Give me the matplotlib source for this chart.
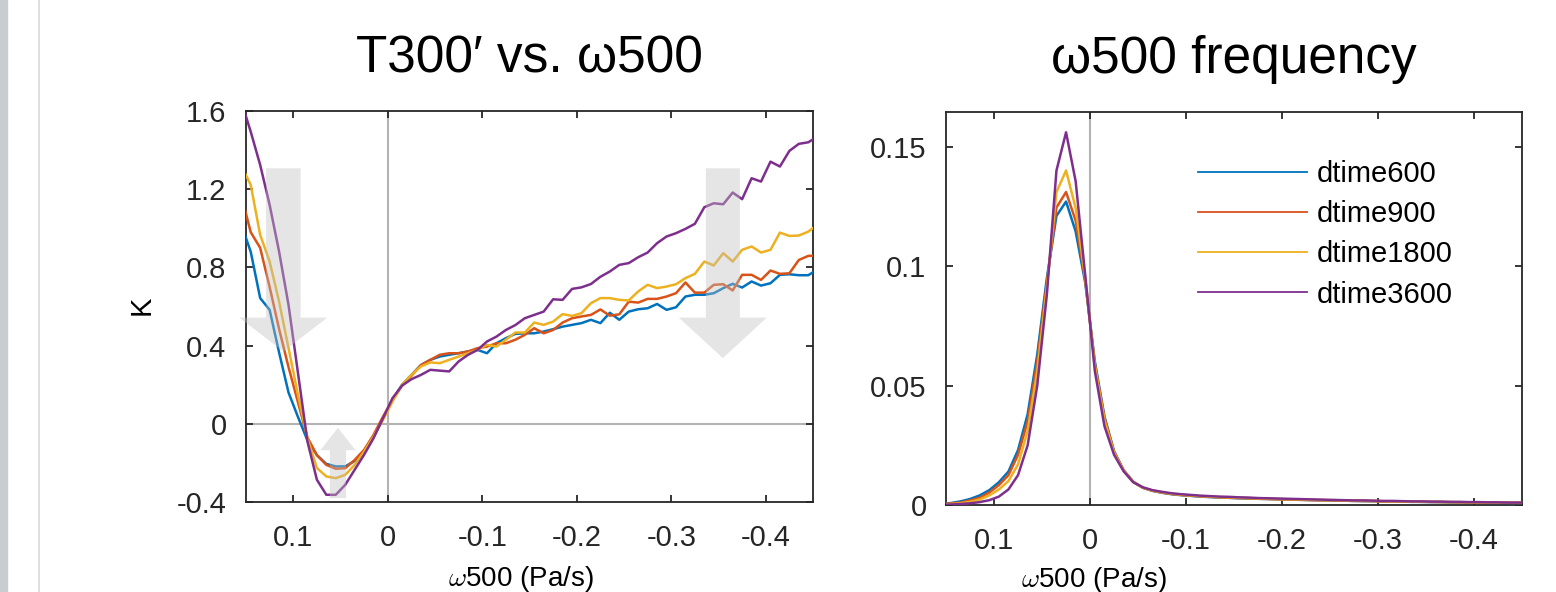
import matplotlib
matplotlib.use("Agg")
import matplotlib.pyplot as plt
import numpy as np
from matplotlib.patches import FancyArrow, Rectangle
from matplotlib.lines import Line2D
from matplotlib.ticker import FuncFormatter

plt.rcParams["font.family"] = ["Liberation Sans", "DejaVu Sans"]
plt.rcParams["axes.unicode_minus"] = False
plt.rcParams["mathtext.fontset"] = "cm"

# bin centres of omega500 (Pa/s), 0.155 ... -0.455
omega = np.linspace(0.155, -0.455, 62)

labels = ["dtime600", "dtime900", "dtime1800", "dtime3600"]
colors = ["#0072BD", "#D95319", "#EDB120", "#7E2F8E"]

# T300' composite (K)
t_600 = [1.02, 0.88, 0.643, 0.583, 0.365, 0.16, 0.035, -0.085, -0.16, -0.205,
         -0.218, -0.218, -0.19, -0.14, -0.065, 0.029, 0.123, 0.199, 0.25, 0.30,
         0.327, 0.344, 0.353, 0.361, 0.37, 0.378, 0.361, 0.412, 0.438, 0.46,
         0.463, 0.463, 0.472, 0.484, 0.497, 0.506, 0.515, 0.532, 0.515, 0.568,
         0.532, 0.574, 0.586, 0.591, 0.613, 0.583, 0.596, 0.651, 0.66, 0.66,
         0.668, 0.694, 0.716, 0.697, 0.728, 0.707, 0.719, 0.762, 0.765, 0.76,
         0.76, 0.79]
t_900 = [1.17, 0.98, 0.90, 0.70, 0.485, 0.29, 0.11, -0.07, -0.16, -0.21,
         -0.23, -0.227, -0.185, -0.133, -0.056, 0.037, 0.12, 0.195, 0.245, 0.30,
         0.327, 0.353, 0.361, 0.361, 0.37, 0.387, 0.395, 0.412, 0.412, 0.43,
         0.455, 0.489, 0.463, 0.48, 0.518, 0.54, 0.549, 0.557, 0.585, 0.553,
         0.56, 0.625, 0.62, 0.639, 0.639, 0.651, 0.668, 0.723, 0.671, 0.671,
         0.711, 0.714, 0.682, 0.762, 0.762, 0.736, 0.784, 0.767, 0.77, 0.838,
         0.859, 0.86]
t_1800 = [1.32, 1.222, 0.966, 0.83, 0.625, 0.387, 0.148, -0.073, -0.226, -0.269,
          -0.278, -0.261, -0.21, -0.142, -0.065, 0.02, 0.114, 0.199, 0.25, 0.293,
          0.314, 0.31, 0.327, 0.344, 0.361, 0.378, 0.404, 0.395, 0.43, 0.467,
          0.467, 0.518, 0.506, 0.523, 0.561, 0.552, 0.566, 0.617, 0.643, 0.643,
          0.634, 0.631, 0.677, 0.711, 0.694, 0.702, 0.714, 0.745, 0.767, 0.83,
          0.81, 0.873, 0.83, 0.89, 0.907, 0.876, 0.89, 0.978, 0.961, 0.963,
          0.983, 1.02]
t_3600 = [1.65, 1.494, 1.324, 1.12, 0.881, 0.608, 0.26, -0.09, -0.286, -0.363,
          -0.363, -0.312, -0.235, -0.158, -0.073, 0.029, 0.131, 0.195, 0.228, 0.25,
          0.276, 0.272, 0.268, 0.319, 0.353, 0.378, 0.421, 0.446, 0.48, 0.505,
          0.54, 0.557, 0.574, 0.637, 0.634, 0.69, 0.698, 0.715, 0.752, 0.779,
          0.813, 0.822, 0.852, 0.876, 0.924, 0.958, 0.975, 0.997, 1.023, 1.108,
          1.128, 1.123, 1.183, 1.149, 1.256, 1.239, 1.341, 1.316, 1.396, 1.432,
          1.44, 1.47]

# omega500 frequency
f_600 = [0.0005, 0.0008, 0.0015, 0.0025, 0.004, 0.0062, 0.0095, 0.014, 0.023, 0.038,
         0.063, 0.095, 0.121, 0.127, 0.1145, 0.093, 0.060, 0.037, 0.0225, 0.0145,
         0.0097, 0.0072, 0.0059, 0.0051, 0.0045, 0.0041, 0.0038, 0.0035, 0.0033, 0.0031,
         0.003, 0.0028, 0.0027, 0.0026, 0.0025, 0.0024, 0.0023, 0.0022, 0.0021, 0.002,
         0.0019, 0.0018, 0.0018, 0.0017, 0.0016, 0.0016, 0.0015, 0.0014, 0.0014, 0.0013,
         0.0013, 0.0012, 0.0012, 0.0011, 0.0011, 0.001, 0.001, 0.0009, 0.0009, 0.0009,
         0.0008, 0.0008]
f_900 = [0.0004, 0.0006, 0.001, 0.0019, 0.003, 0.0052, 0.0083, 0.0125, 0.021, 0.035,
         0.06, 0.093, 0.1245, 0.131, 0.119, 0.094, 0.059, 0.0365, 0.0222, 0.0145,
         0.0097, 0.0072, 0.006, 0.0052, 0.0046, 0.0042, 0.0039, 0.0036, 0.0034, 0.0032,
         0.003, 0.0029, 0.0028, 0.0026, 0.0025, 0.0024, 0.0023, 0.0022, 0.0021, 0.002,
         0.002, 0.0019, 0.0018, 0.0017, 0.0017, 0.0016, 0.0015, 0.0015, 0.0014, 0.0014,
         0.0013, 0.0013, 0.0012, 0.0012, 0.0011, 0.0011, 0.001, 0.001, 0.001, 0.0009,
         0.0009, 0.0009]
f_1800 = [0.0003, 0.0004, 0.0007, 0.0013, 0.0023, 0.004, 0.0065, 0.01, 0.017, 0.031,
          0.056, 0.091, 0.131, 0.140, 0.1243, 0.095, 0.058, 0.0355, 0.0218, 0.0143,
          0.0096, 0.0072, 0.006, 0.0053, 0.0047, 0.0043, 0.004, 0.0037, 0.0035, 0.0033,
          0.0032, 0.003, 0.0029, 0.0027, 0.0026, 0.0025, 0.0024, 0.0023, 0.0022, 0.0021,
          0.002, 0.002, 0.0019, 0.0018, 0.0017, 0.0017, 0.0016, 0.0015, 0.0015, 0.0014,
          0.0014, 0.0013, 0.0013, 0.0012, 0.0012, 0.0011, 0.0011, 0.001, 0.001, 0.001,
          0.0009, 0.0009]
f_3600 = [0.0001, 0.0002, 0.0004, 0.0007, 0.0012, 0.002, 0.0035, 0.0065, 0.0125, 0.025,
          0.05, 0.088, 0.140, 0.156, 0.1355, 0.096, 0.056, 0.033, 0.021, 0.0141,
          0.0095, 0.0074, 0.0062, 0.0055, 0.0049, 0.0045, 0.0042, 0.0039, 0.0037, 0.0035,
          0.0034, 0.0032, 0.0031, 0.0029, 0.0028, 0.0027, 0.0026, 0.0025, 0.0024, 0.0023,
          0.0022, 0.0021, 0.002, 0.0019, 0.0019, 0.0018, 0.0017, 0.0017, 0.0016, 0.0015,
          0.0015, 0.0014, 0.0014, 0.0013, 0.0013, 0.0012, 0.0012, 0.0011, 0.0011, 0.001,
          0.001, 0.001]

temp_series = [t_600, t_900, t_1800, t_3600]
freq_series = [f_600, f_900, f_1800, f_3600]

x_ticks = [0.1, 0, -0.1, -0.2, -0.3, -0.4]

# shaded arrows on the left panel: (x, y_start, y_end, shaft, head width, head length)
arrows = [
    (0.1105, 1.307, 0.37, 0.0365, 0.093, 0.173),
    (-0.3546, 1.307, 0.336, 0.036, 0.093, 0.207),
    (0.0527, -0.38, -0.02, 0.0172, 0.0372, 0.115),
]

fmt = FuncFormatter(lambda v, p: f"{v:g}")


def style_axes(ax):
    for s in ax.spines.values():
        s.set_linewidth(1.3)
        s.set_color("#262626")
    ax.tick_params(direction="in", length=5, width=1.3, color="#262626",
                   top=True, right=True, labelsize=21, pad=14, labelcolor="#262626")
    ax.tick_params(axis="x", pad=16)
    ax.set_xlim(0.15, -0.45)
    ax.set_xticks(x_ticks)
    ax.xaxis.set_major_formatter(fmt)
    ax.yaxis.set_major_formatter(fmt)


fig = plt.figure(figsize=(15.56, 5.92), dpi=100)

# window chrome at the left edge of the screenshot
fig.patches.append(Rectangle((0, 0), 7 / 1556, 1, transform=fig.transFigure,
                             color="#c9cdd1", zorder=0))
fig.add_artist(Line2D([38.5 / 1556] * 2, [0, 1], transform=fig.transFigure,
                      color="#d9d9d9", lw=1.2))

ax1 = fig.add_axes([0.1581, 0.152, 0.3644, 0.6605])
ax2 = fig.add_axes([0.608, 0.147, 0.3702, 0.6638])

# left: T300' vs omega500
ax1.axhline(0, color="#b3b3b3", lw=1.5, zorder=1)
ax1.axvline(0, color="#b3b3b3", lw=1.5, zorder=1)
for vals, c, lab in zip(temp_series, colors, labels):
    ax1.plot(omega, vals, color=c, lw=1.8, label=lab, zorder=3)
style_axes(ax1)
ax1.set_ylim(-0.4, 1.6)
ax1.set_yticks([-0.4, 0, 0.4, 0.8, 1.2, 1.6])
ax1.set_title("T300′ vs. ω500", fontsize=37, pad=28)
ax1.set_xlabel(r"$\omega$500 (Pa/s)", fontsize=20)
ax1.xaxis.set_label_coords(0.485, -0.158)
ax1.set_ylabel("K", fontsize=21)
ax1.yaxis.set_label_coords(-0.16, 0.504)

for x0, y0, y1, w, hw, hl in arrows:
    ax1.add_patch(FancyArrow(x0, y0, 0, y1 - y0, width=w, head_width=hw,
                             head_length=hl, length_includes_head=True,
                             facecolor=(0.75, 0.75, 0.75), alpha=0.4,
                             edgecolor="none", zorder=5, clip_on=False))

# right: omega500 frequency
ax2.axvline(0, color="#b3b3b3", lw=1.5, zorder=1)
for vals, c, lab in zip(freq_series, colors, labels):
    ax2.plot(omega, vals, color=c, lw=1.8, label=lab, zorder=3)
style_axes(ax2)
ax2.set_ylim(0, 0.1645)
ax2.set_yticks([0, 0.05, 0.1, 0.15])
ax2.set_title("ω500 frequency", fontsize=37, pad=28)
ax2.set_xlabel(r"$\omega$500 (Pa/s)", fontsize=20)
ax2.xaxis.set_label_coords(0.257, -0.152)

leg = ax2.legend(frameon=False, fontsize=21, loc="upper left",
                 bbox_to_anchor=(0.4375, 0.878), borderpad=0, borderaxespad=0,
                 handlelength=3.73, handletextpad=0.34, labelspacing=0.42)
for h in leg.get_lines():
    h.set_linewidth(1.3)

fig.savefig("out.png", dpi=100)
